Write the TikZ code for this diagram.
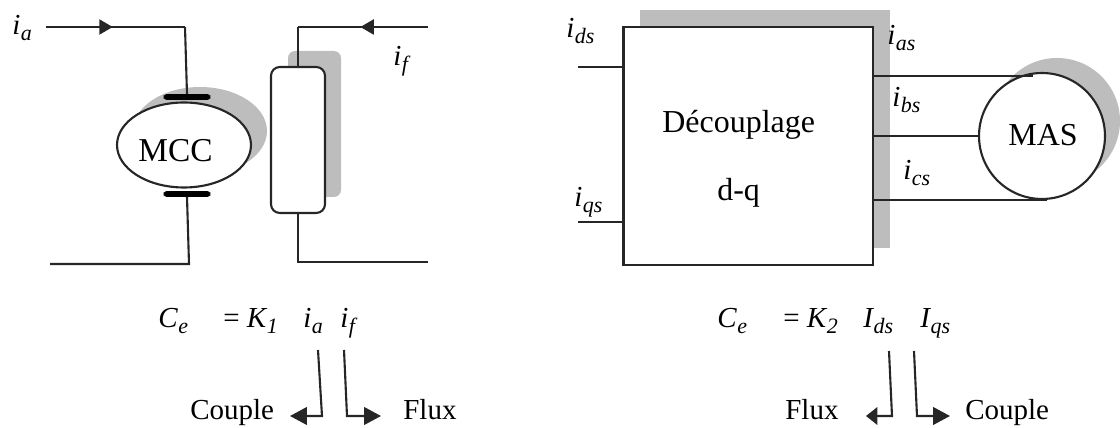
\documentclass[tikz,border=0pt]{standalone}
\usepackage{fontspec}
\setmainfont{Liberation Serif}
\usepackage{tikz}
\usetikzlibrary{arrows.meta}
\usetikzlibrary{decorations.markings}
\usetikzlibrary{shapes.geometric}
\definecolor{mgray}{rgb}{0.74, 0.74, 0.74}
\definecolor{mwire}{rgb}{0.15, 0.15, 0.15}
\newcommand{\cursub}[2]{\textit{#1\kern0.02em\raisebox{-0.2em}{\fontsize{12.5}{12.5}\selectfont #2}}}
\tikzset{
  wire/.style={line width=1.2pt, mwire},
  bigtip/.style={-{Triangle[length=9.6pt, width=10pt]}},
  shorttip/.style={-{Triangle[length=6.5pt, width=10pt]}},
  midtip/.style={postaction={decorate}, decoration={markings, mark=at position #1 with {\arrow{Triangle[length=7.6pt, width=8.5pt]}}}},
  txt/.style={font=\fontsize{16.5}{18}\selectfont, inner sep=0pt, anchor=base west},
  bigtxt/.style={font=\fontsize{18.2}{20}\selectfont, inner sep=0pt, anchor=base west},
  brush/.style={draw=black, fill=black, rounded corners=1.5pt, minimum width=0.92cm, minimum height=0.1cm, inner sep=0pt},
}
\begin{document}
\begin{tikzpicture}[x=0.02cm, y=-0.02cm]
      \useasboundingbox (0, 0) rectangle (1120, 428);

      % shadows
      \fill [mgray] (200, 131) ellipse [x radius=67, y radius=44];
      \fill [mgray, rounded corners=4pt] (288, 51) rectangle (341, 197);
      \fill [mgray] (640, 10) rectangle (890, 248);
      \fill [mgray] (1057, 121) circle (63);

      % left machine
      \node (mcc) at (184, 145) [draw=mwire, line width=1.2pt, fill=white, ellipse, minimum width=2.68cm, minimum height=1.7cm, inner sep=0pt] {};
      \node (brushtop) at (187, 97) [brush] {};
      \node (brushbot) at (187, 194) [brush] {};
      \node (field) at (298, 140) [draw=mwire, line width=1.2pt, fill=white, rounded corners=5pt, minimum width=1.08cm, minimum height=2.92cm, inner sep=0pt] {};

      \coordinate (iain) at (46, 27);
      \coordinate (iacorner) at (185, 27);
      \coordinate (botleft) at (50, 264);
      \coordinate (botcorner) at (189, 264);
      \coordinate (ifin) at (428, 27);
      \coordinate (ifcorner) at (298, 27);
      \coordinate (fieldcorner) at (298, 262);
      \coordinate (fieldout) at (428, 262);

      \draw [wire, midtip=0.48] (iain) -- (iacorner);
      \draw [wire] (iacorner) -- (brushtop.north);
      \draw [wire] (brushbot.south) -- (botcorner) -- (botleft);
      \draw [wire, midtip=0.52] (ifin) -- (ifcorner);
      \draw [wire] (ifcorner) -- (field.north);
      \draw [wire] (field.south) -- (fieldcorner) -- (fieldout);

      \node at (138, 162) [txt, font=\fontsize{19}{20}\selectfont] {MCC};
      \node (ia) at (12, 35) [txt] {\cursub{i}{a}};
      \node (if) at (393, 66) [txt] {\cursub{i}{f}};

      % right machine
      \node (dec) at (748.25, 146) [draw=mwire, line width=1.2pt, fill=white, minimum width=4.99cm, minimum height=4.76cm, inner sep=0pt] {};
      \node (mas) at (1042, 136) [draw=mwire, line width=1.2pt, fill=white, circle, minimum size=2.52cm, inner sep=0pt] {};

      \coordinate (dsin) at (578, 67);
      \coordinate (dsout) at (624, 67);
      \coordinate (qsin) at (578, 222);
      \coordinate (qsout) at (624, 222);
      \coordinate (asout) at (873, 76);
      \coordinate (asend) at (1033, 76);
      \coordinate (csout) at (873, 200);
      \coordinate (csend) at (1047, 200);
      \coordinate (bsout) at (873, 136);

      \draw [wire] (dsin) -- (dsout);
      \draw [wire] (qsin) -- (qsout);
      \draw [wire] (asout) -- (asend);
      \draw [wire] (bsout) -- (mas.west);
      \draw [wire] (csout) -- (csend);

      \node at (662, 133) [bigtxt] {Découplage};
      \node at (717, 201) [bigtxt] {d-q};
      \node at (1008, 146) [bigtxt] {MAS};
      \node (ids) at (566, 38) [txt] {\cursub{i}{ds}};
      \node (iqs) at (574, 207) [txt] {\cursub{i}{qs}};
      \node (ias) at (887, 45) [txt] {\cursub{i}{as}};
      \node (ibs) at (892, 107) [txt] {\cursub{i}{bs}};
      \node (ics) at (903, 180) [txt] {\cursub{i}{cs}};

      % equations
      \node (ce1) at (158, 328) [txt] {\cursub{C}{e}};
      \node (k1) at (223, 328) [txt] {= \cursub{K}{1}};
      \node (eqa) at (303, 328) [txt] {\cursub{i}{a}};
      \node (eqf) at (340, 328) [txt] {\cursub{i}{f}};
      \node (ce2) at (717, 328) [txt] {\cursub{C}{e}};
      \node (k2) at (783, 328) [txt] {= \cursub{K}{2}};
      \node (eqd) at (863, 328) [txt] {\cursub{I}{ds}};
      \node (eqq) at (920, 328) [txt] {\cursub{I}{qs}};

      % splitting arrows
      \node (couple1) at (190, 420) [txt] {Couple};
      \node (flux1) at (403, 420) [txt] {Flux};
      \node (flux2) at (785, 420) [txt] {Flux};
      \node (couple2) at (965, 420) [txt] {Couple};

      \coordinate (a1) at (318, 350);
      \coordinate (a2) at (322, 416);
      \coordinate (a3) at (290, 416);
      \coordinate (b1) at (344, 350);
      \coordinate (b2) at (347, 416);
      \coordinate (b3) at (381, 416);
      \coordinate (c1) at (889, 351);
      \coordinate (c2) at (892, 416);
      \coordinate (c3) at (866, 416);
      \coordinate (d1) at (914, 351);
      \coordinate (d2) at (917, 416);
      \coordinate (d3) at (950, 416);

      \draw [wire, bigtip] (a1) -- (a2) -- (a3);
      \draw [wire, bigtip] (b1) -- (b2) -- (b3);
      \draw [wire, shorttip] (c1) -- (c2) -- (c3);
      \draw [wire, bigtip] (d1) -- (d2) -- (d3);
    \end{tikzpicture}
\end{document}
